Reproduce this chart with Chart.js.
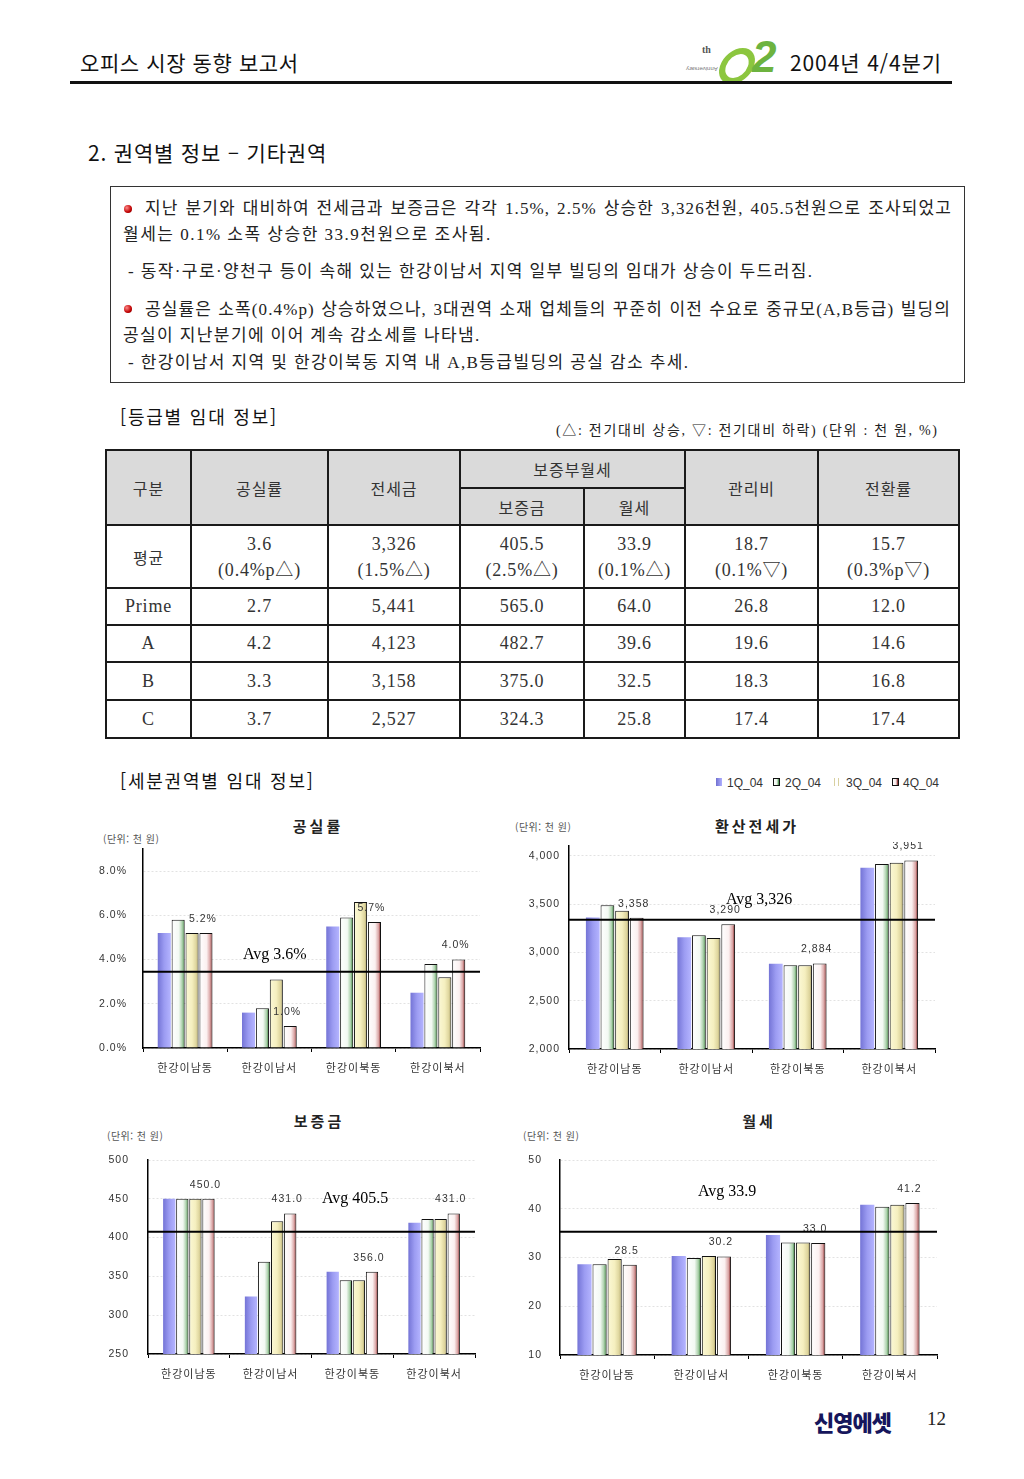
<!DOCTYPE html>
<html lang="ko">
<head>
<meta charset="utf-8">
<title>오피스 시장 동향 보고서 - 기타권역</title>
<script src="https://cdn.jsdelivr.net/npm/chart.js@4.4.1/dist/chart.umd.min.js"></script>
<style>
  html, body { margin: 0; padding: 0; background: #fff; }
  #page { position: relative; width: 1024px; height: 1479px; overflow: hidden;
          font-family: "Noto Sans CJK KR", sans-serif; color: #222; }
  .abs { position: absolute; white-space: nowrap; }
  .hdr { font-size: 21px; line-height: 24px; color: #111; letter-spacing: 0.6px; }
  .txt { font-family: "Liberation Serif", "Noto Sans CJK KR", serif; font-size: 17px;
         line-height: 20px; color: #222; letter-spacing: 1.1px; }
  .just { white-space: normal; text-align: justify; text-align-last: justify; }
  .dot { position: absolute; width: 8px; height: 8px; border-radius: 50%;
         background: radial-gradient(circle at 35% 35%, #ff8a8a, #c00000 60%, #700000); }
  .sub { font-size: 18px; line-height: 22px; color: #111; letter-spacing: 1.8px; }
  table.grade { position: absolute; left: 105px; top: 449px; width: 853px;
                border-collapse: collapse; table-layout: fixed;
                font-family: "Liberation Serif", "Noto Sans CJK KR", serif; font-size: 18px;
                letter-spacing: 0.8px; color: #333; }
  table.grade td { border: 2px solid #1a1a1a; text-align: center; vertical-align: middle; padding: 0; }
  table.grade td.h { background: #dadada; font-family: "Noto Sans CJK KR", sans-serif; font-size: 16px;
                     letter-spacing: 1px; }
  .ctitle { font-weight: bold; font-size: 15px; letter-spacing: 3px; color: #222; transform: translateX(-50%); }
  .unit { font-size: 10px; color: #555; letter-spacing: 0.5px; }
  .avg { font-family: "Liberation Serif", serif; font-size: 16px; line-height: 18px; color: #000; }
  .chartbox { position: absolute; }
  .legend { font-family: "Liberation Sans", sans-serif; font-size: 12px; color: #333; line-height: 14px; }
  .mk { position: absolute; width: 6px; height: 8px; }
</style>
</head>
<body>
<div id="page">
  <!-- header -->
  <div class="abs hdr" style="left:80px; top:50px;">오피스 시장 동향 보고서</div>
  <div class="abs" style="left:686px; top:42px; width:104px; height:40px;">
    <span class="abs" style="left:16px; top:2px; font:bold 10px 'Liberation Serif'; color:#555;">th</span>
    <span class="abs" style="left:0px; top:24px; font:6px 'Liberation Sans'; color:#777; transform:rotate(180deg);">Anniversary</span>
    <div class="abs" style="left:34px; top:6px; width:22px; height:24px; border:6px solid #8cc63f; border-radius:50%; transform:skewX(-18deg);"></div>
    <span class="abs" style="left:66px; top:-10px; font:italic 900 44px 'Liberation Sans'; color:#6db33f;">2</span>
  </div>
  <div class="abs hdr" style="left:790px; top:50px; letter-spacing:0.9px;">2004년 4/4분기</div>
  <div class="abs" style="left:70px; top:81px; width:882px; height:3px; background:#111;"></div>

  <div class="abs hdr" style="left:88px; top:140px; letter-spacing:0.8px;">2. 권역별 정보 – 기타권역</div>

  <!-- summary box -->
  <div class="abs" style="left:110px; top:186px; width:853px; height:195px; border:1.5px solid #333;"></div>
  <div class="dot" style="left:124px; top:205px;"></div>
  <div class="abs txt just" style="left:145px; top:199px; width:807px;">지난 분기와 대비하여 전세금과 보증금은 각각 1.5%, 2.5% 상승한 3,326천원, 405.5천원으로 조사되었고</div>
  <div class="abs txt" style="left:123px; top:225px; letter-spacing:1.5px;">월세는 0.1% 소폭 상승한 33.9천원으로 조사됨.</div>
  <div class="abs txt" style="left:128px; top:262px; letter-spacing:1.4px;">- 동작·구로·양천구 등이 속해 있는 한강이남서 지역 일부 빌딩의 임대가 상승이 두드러짐.</div>
  <div class="dot" style="left:124px; top:305px;"></div>
  <div class="abs txt just" style="left:145px; top:300px; width:806px;">공실률은 소폭(0.4%p) 상승하였으나, 3대권역 소재 업체들의 꾸준히 이전 수요로 중규모(A,B등급) 빌딩의</div>
  <div class="abs txt" style="left:123px; top:326px; letter-spacing:1.4px;">공실이 지난분기에 이어 계속 감소세를 나타냄.</div>
  <div class="abs txt" style="left:128px; top:353px; letter-spacing:1.4px;">- 한강이남서 지역 및 한강이북동 지역 내 A,B등급빌딩의 공실 감소 추세.</div>

  <!-- grade table -->
  <div class="abs sub" style="left:120px; top:405px;">[등급별 임대 정보]</div>
  <div class="abs txt" style="left:556px; top:423px; font-size:14px; line-height:16px; letter-spacing:1.7px;">(△: 전기대비 상승, ▽: 전기대비 하락) (단위 : 천 원, %)</div>
  <table class="grade">
    <colgroup>
      <col style="width:85px"><col style="width:137px"><col style="width:132px"><col style="width:124px">
      <col style="width:101px"><col style="width:133px"><col style="width:141px">
    </colgroup>
    <tr style="height:38px;">
      <td class="h" rowspan="2">구분</td><td class="h" rowspan="2">공실률</td><td class="h" rowspan="2">전세금</td>
      <td class="h" colspan="2">보증부월세</td><td class="h" rowspan="2">관리비</td><td class="h" rowspan="2">전환률</td>
    </tr>
    <tr style="height:37px;"><td class="h">보증금</td><td class="h">월세</td></tr>
    <tr style="height:63px; line-height:26px;">
      <td style="font-family:'Noto Sans CJK KR'; font-size:16px;">평균</td>
      <td>3.6<br>(0.4%p△)</td><td>3,326<br>(1.5%△)</td><td>405.5<br>(2.5%△)</td>
      <td>33.9<br>(0.1%△)</td><td>18.7<br>(0.1%▽)</td><td>15.7<br>(0.3%p▽)</td>
    </tr>
    <tr style="height:37px;"><td>Prime</td><td>2.7</td><td>5,441</td><td>565.0</td><td>64.0</td><td>26.8</td><td>12.0</td></tr>
    <tr style="height:37px;"><td>A</td><td>4.2</td><td>4,123</td><td>482.7</td><td>39.6</td><td>19.6</td><td>14.6</td></tr>
    <tr style="height:38px;"><td>B</td><td>3.3</td><td>3,158</td><td>375.0</td><td>32.5</td><td>18.3</td><td>16.8</td></tr>
    <tr style="height:38px;"><td>C</td><td>3.7</td><td>2,527</td><td>324.3</td><td>25.8</td><td>17.4</td><td>17.4</td></tr>
  </table>

  <!-- sub-region charts -->
  <div class="abs sub" style="left:120px; top:769px;">[세분권역별 임대 정보]</div>
  <div class="mk" style="left:716px; top:778px; background:linear-gradient(90deg,#7070d0,#b0b0ff);"></div>
  <div class="abs legend" style="left:727px; top:776px;">1Q_04</div>
  <div class="mk" style="left:773px; top:778px; border:1.5px solid #111; width:5px; height:6px; background:linear-gradient(90deg,#fff,#e8f4e8 60%,#2e7d32);"></div>
  <div class="abs legend" style="left:785px; top:776px;">2Q_04</div>
  <div class="mk" style="left:834px; top:778px; border-left:1.5px solid #d8d0a0; border-right:1.5px solid #d8d0a0; width:3px; background:#fff;"></div>
  <div class="abs legend" style="left:846px; top:776px;">3Q_04</div>
  <div class="mk" style="left:892px; top:778px; border:1.5px solid #111; width:5px; height:6px; background:linear-gradient(90deg,#fff,#f6e6e6 60%,#7a1010);"></div>
  <div class="abs legend" style="left:903px; top:776px;">4Q_04</div>

  <div class="abs ctitle" style="left:318px; top:815px;">공실률</div>
  <div class="abs unit" style="left:103px; top:831px;">(단위: 천 원)</div>
  <div class="abs ctitle" style="left:757px; top:815px;">환산전세가</div>
  <div class="abs unit" style="left:515px; top:819px;">(단위: 천 원)</div>
  <div class="abs ctitle" style="left:319px; top:1110px;">보증금</div>
  <div class="abs unit" style="left:107px; top:1128px;">(단위: 천 원)</div>
  <div class="abs ctitle" style="left:759px; top:1110px;">월세</div>
  <div class="abs unit" style="left:523px; top:1128px;">(단위: 천 원)</div>

  <div class="chartbox" style="left:80px; top:845px; width:410px; height:240px;"><canvas id="vacancyChart"></canvas></div>
  <div class="chartbox" style="left:500px; top:842px; width:450px; height:243px;"><canvas id="jeonseChart"></canvas></div>
  <div class="chartbox" style="left:80px; top:1150px; width:410px; height:240px;"><canvas id="depositChart"></canvas></div>
  <div class="chartbox" style="left:500px; top:1150px; width:450px; height:240px;"><canvas id="rentChart"></canvas></div>

  <div class="abs avg" style="left:243px; top:945px;">Avg 3.6%</div>
  <div class="abs avg" style="left:726px; top:890px;">Avg 3,326</div>
  <div class="abs avg" style="left:322px; top:1189px;">Avg 405.5</div>
  <div class="abs avg" style="left:698px; top:1182px;">Avg 33.9</div>

  <!-- footer -->
  <div class="abs" style="left:814px; top:1405px; font-size:22px; font-weight:900; color:#16165c; letter-spacing:-1px;">신영에셋</div>
  <div class="abs" style="left:927px; top:1408px; font:19px 'Liberation Serif'; color:#222;">12</div>
</div>

<script>
const regions = ["한강이남동", "한강이남서", "한강이북동", "한강이북서"];
const quarters = ["1Q_04", "2Q_04", "3Q_04", "4Q_04"];

// 공실률 (%)
const vacancy1Q = [5.2, 1.6, 5.5, 2.5];
const vacancy2Q = [5.8, 1.8, 5.9, 3.8];
const vacancy3Q = [5.2, 3.1, 6.6, 3.2];
const vacancy4Q = [5.2, 1.0, 5.7, 4.0];
const vacancyTicks = [0, 2, 4, 6, 8];

// 환산전세가 (천 원)
const jeonse1Q = [3360, 3155, 2883, 3876];
const jeonse2Q = [3486, 3176, 2866, 3914];
const jeonse3Q = [3431, 3148, 2866, 3928];
const jeonse4Q = [3358, 3290, 2884, 3951];
const jeonseTicks = [2000, 2500, 3000, 3500, 4000];

// 보증금 (천 원)
const deposit1Q = [450, 324, 356, 419];
const deposit2Q = [450, 369, 345, 424];
const deposit3Q = [450, 421, 345, 424];
const deposit4Q = [450, 431, 356, 431];
const depositTicks = [250, 300, 350, 400, 450, 500];

// 월세 (천 원)
const rent1Q = [28.6, 30.3, 34.6, 40.8];
const rent2Q = [28.6, 29.9, 33.1, 40.4];
const rent3Q = [29.7, 30.3, 33.1, 40.8];
const rent4Q = [28.5, 30.2, 33.0, 41.2];
const rentTicks = [10, 20, 30, 40, 50];

// level at which each average line is drawn in the picture
const avgLevels = [3.45, 3338, 407.4, 35.3];

Chart.defaults.font.family = '"Liberation Sans", "Noto Sans CJK KR", sans-serif';
Chart.defaults.animation = false;

const quarterStyles = [
  { stops: [[0, "#7474d6"], [0.5, "#9c9cf2"], [1, "#b4b4ff"]], border: 0 },
  { stops: [[0, "#ffffff"], [0.55, "#f3f9f3"], [0.82, "#a8cfa8"], [1, "#1b6b1b"]], border: 1 },
  { stops: [[0, "#fbf8d6"], [0.5, "#f5efbf"], [0.82, "#ddd49c"], [1, "#9a9058"]], border: 1 },
  { stops: [[0, "#ffffff"], [0.55, "#fbf0f0"], [0.82, "#d9a3a3"], [1, "#761010"]], border: 1 },
];

// horizontal gradient across each bar, taken from the bar element's own geometry
function barFill(stops) {
  return (c) => {
    const el = c.element;
    if (!el || el.x == null || !el.width) return stops[1][1];
    const g = c.chart.ctx.createLinearGradient(el.x - el.width / 2, 0, el.x + el.width / 2, 0);
    stops.forEach(([o, col]) => g.addColorStop(o, col));
    return g;
  };
}

function makeOverlay(avg, fmt) {
  return {
    id: "overlay",
    beforeDraw(chart) {
      chart.ctx.letterSpacing = "1px";
    },
    afterDatasetsDraw(chart) {
      const { ctx, chartArea, scales } = chart;
      const last = chart.data.datasets.length - 1;
      const meta = chart.getDatasetMeta(last);
      ctx.save();
      ctx.font = '10.5px "Liberation Sans"';
      ctx.fillStyle = "#333";
      ctx.textAlign = "center";
      ctx.textBaseline = "middle";
      meta.data.forEach((bar, i) => {
        ctx.fillText(fmt(chart.data.datasets[last].data[i]), bar.x - 3, bar.y - 14);
      });
      const y = scales.y.getPixelForValue(avg);
      ctx.strokeStyle = "#000";
      ctx.lineWidth = 2;
      ctx.beginPath();
      ctx.moveTo(chartArea.left, y);
      ctx.lineTo(chartArea.right, y);
      ctx.stroke();
      ctx.restore();
    },
  };
}

function buildChart(id, series, cfg) {
  const datasets = series.map((data, i) => ({
    label: quarters[i],
    data: data,
    backgroundColor: barFill(quarterStyles[i].stops),
    borderColor: "#111",
    borderWidth: quarterStyles[i].border,
    borderSkipped: "bottom",
    categoryPercentage: cfg.catPct,
    barPercentage: 0.94,
  }));

  const chart = new Chart(document.getElementById(id), {
    type: "bar",
    data: { labels: regions, datasets: datasets },
    options: {
      responsive: true,
      maintainAspectRatio: false,
      layout: { padding: { top: cfg.padTop, right: cfg.padRight, bottom: 0, left: 0 } },
      plugins: { legend: { display: false }, tooltip: { enabled: false } },
      scales: {
        x: {
          afterFit: (s) => { s.height = cfg.xHeight; s.paddingLeft = 0; s.paddingRight = 0; },
          ticks: { color: "#333", padding: 9, maxRotation: 0,
                   font: { family: '"Noto Sans CJK KR"', size: 11 } },
          grid: { drawOnChartArea: false, drawTicks: true, tickLength: 4, color: "#000", offset: true },
          border: { color: "#000", width: 1.5 },
        },
        y: {
          min: cfg.min,
          max: cfg.max,
          afterBuildTicks: (s) => { s.ticks = cfg.ticks.map((v) => ({ value: v })); },
          afterFit: (s) => { s.width = cfg.yWidth; s.paddingTop = 0; s.paddingBottom = 0; },
          ticks: { color: "#333", padding: cfg.tickGap, callback: cfg.fmtTick, font: { size: 10.5 } },
          grid: { drawTicks: false, color: "#e2e2e2", lineWidth: 1 },
          border: { color: "#000", width: 1.5, dash: [2, 2] },
        },
      },
    },
    plugins: [makeOverlay(cfg.avg, cfg.fmtLabel)],
  });
  // second pass so the gradients pick up the laid-out bar positions
  chart.update("none");
  return chart;
}

const commaFmt = (v) => v.toLocaleString("en-US");

buildChart("vacancyChart", [vacancy1Q, vacancy2Q, vacancy3Q, vacancy4Q], {
  min: 0, max: 9, ticks: vacancyTicks, avg: avgLevels[0],
  fmtTick: (v) => v.toFixed(1) + "%", fmtLabel: (v) => v.toFixed(1) + "%",
  yWidth: 63, tickGap: 16, xHeight: 37, padTop: 4, padRight: 10, catPct: 0.66,
});

buildChart("jeonseChart", [jeonse1Q, jeonse2Q, jeonse3Q, jeonse4Q], {
  min: 2000, max: 4100, ticks: jeonseTicks, avg: avgLevels[1],
  fmtTick: commaFmt, fmtLabel: commaFmt,
  yWidth: 69, tickGap: 9, xHeight: 36, padTop: 4, padRight: 15, catPct: 0.64,
});

buildChart("depositChart", [deposit1Q, deposit2Q, deposit3Q, deposit4Q], {
  min: 250, max: 500, ticks: depositTicks, avg: avgLevels[2],
  fmtTick: (v) => String(v), fmtLabel: (v) => v.toFixed(1),
  yWidth: 68, tickGap: 19, xHeight: 36, padTop: 10, padRight: 15, catPct: 0.64,
});

buildChart("rentChart", [rent1Q, rent2Q, rent3Q, rent4Q], {
  min: 10, max: 50, ticks: rentTicks, avg: avgLevels[3],
  fmtTick: (v) => String(v), fmtLabel: (v) => v.toFixed(1),
  yWidth: 60, tickGap: 18, xHeight: 35, padTop: 10, padRight: 13, catPct: 0.64,
});
</script>
</body>
</html>
